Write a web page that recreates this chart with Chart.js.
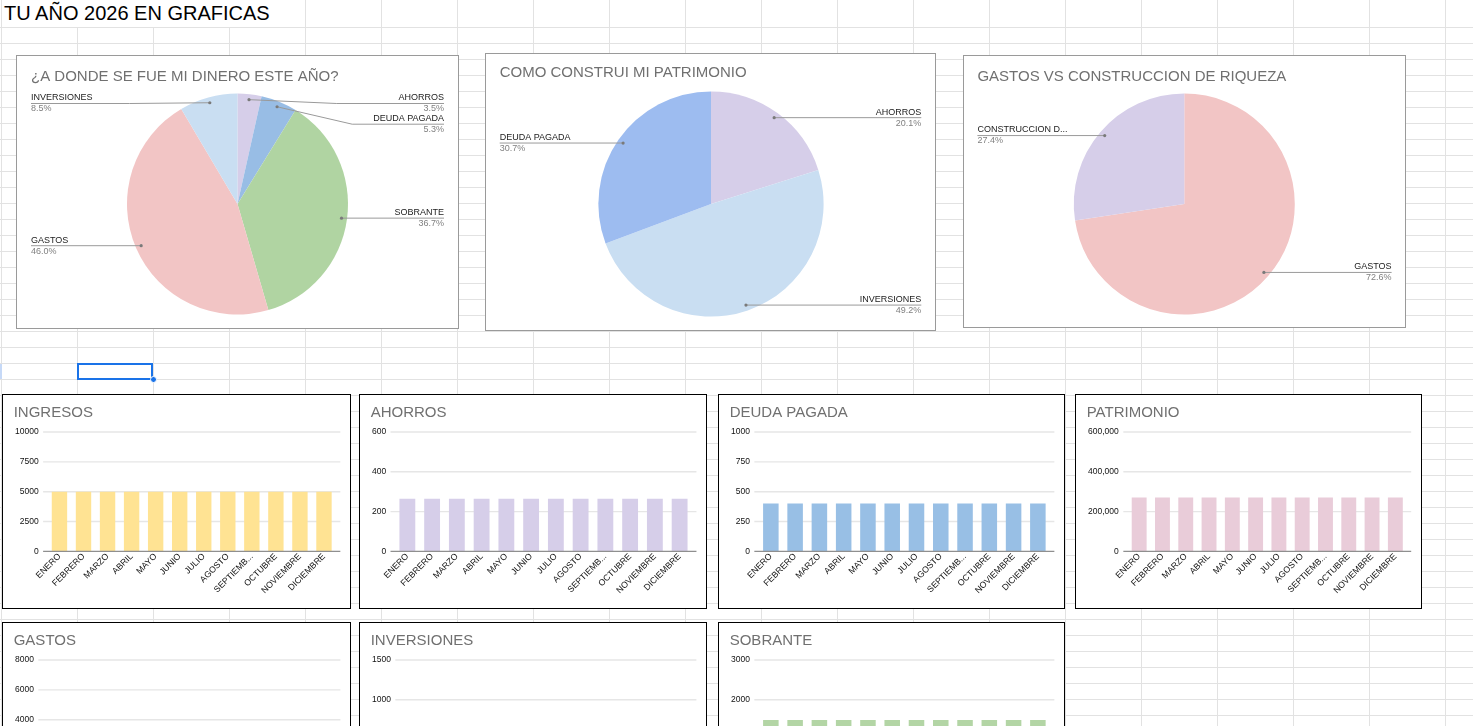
<!DOCTYPE html>
<html>
<head>
<meta charset="utf-8">
<script src="https://cdn.jsdelivr.net/npm/chart.js"></script>
<style>
  html, body { margin:0; padding:0; background:#fff; width:1473px; height:726px; overflow:hidden; position:relative; font-family:'Liberation Sans', Arial, sans-serif; }
  .sheet { position:absolute; left:0; top:27px; width:1473px; height:700px;
    background-image: linear-gradient(to right, #e2e2e2 1px, transparent 1px), linear-gradient(to bottom, #e2e2e2 1px, transparent 1px);
    background-size: 76px 16px, 76px 16px; background-position: 1px 0px, 0px 0px; }
  .toprow { position:absolute; left:305px; top:0; width:1168px; height:27px;
    background-image: linear-gradient(to right, #e2e2e2 1px, transparent 1px); background-size:76px 27px; }
  .leftline { position:absolute; left:1px; top:0; width:1px; height:726px; background:#e2e2e2; }
  .pagetitle { position:absolute; left:4px; top:1px; font-size:20px; line-height:24px; color:#000; white-space:nowrap; }
  .box { position:absolute; background:#fff; }
  .box canvas { display:block; }
  .pie { border:1px solid #9a9a9a; }
  .bar { border:1px solid #000; }
  .sel { position:absolute; left:77px; top:363px; width:76px; height:17px; box-sizing:border-box; border:2px solid #1a73e8; }
  .dot { position:absolute; left:150px; top:376px; width:7px; height:7px; border-radius:50%; background:#1a73e8; border:1px solid #fff; box-sizing:border-box; }
  .rowmark { position:absolute; left:0; top:364px; width:2px; height:15px; background:#c6d9f7; }
</style>
</head>
<body>
<div class="sheet"></div>
<div class="toprow"></div>
<div class="leftline"></div>
<div class="rowmark"></div>
<div class="pagetitle">TU AÑO 2026 EN GRAFICAS</div>
<div class="sel"></div>
<div class="dot"></div>

<div class="box pie" style="left:16px;top:55px;"><canvas id="pie1" width="441" height="272"></canvas></div>
<div class="box pie" style="left:485px;top:53px;"><canvas id="pie2" width="449" height="276"></canvas></div>
<div class="box pie" style="left:963px;top:55px;"><canvas id="pie3" width="441" height="271"></canvas></div>

<div class="box bar" style="left:2px;top:394px;"><canvas id="bIngresos" width="347" height="213"></canvas></div>
<div class="box bar" style="left:359px;top:394px;"><canvas id="bAhorros" width="346" height="213"></canvas></div>
<div class="box bar" style="left:718px;top:394px;"><canvas id="bDeuda" width="345" height="213"></canvas></div>
<div class="box bar" style="left:1075px;top:394px;"><canvas id="bPatrimonio" width="345" height="213"></canvas></div>
<div class="box bar" style="left:2px;top:622px;"><canvas id="bGastos" width="347" height="213"></canvas></div>
<div class="box bar" style="left:359px;top:622px;"><canvas id="bInversiones" width="346" height="213"></canvas></div>
<div class="box bar" style="left:718px;top:622px;"><canvas id="bSobrante" width="345" height="213"></canvas></div>

<script>
// ---------- DATA ----------
const meses = ['ENERO','FEBRERO','MARZO','ABRIL','MAYO','JUNIO','JULIO','AGOSTO','SEPTIEMBRE','OCTUBRE','NOVIEMBRE','DICIEMBRE'];
const ingresos    = [5000, 5000, 5000, 5000, 5000, 5000, 5000, 5000, 5000, 5000, 5000, 5000];
const ahorros     = [265, 265, 265, 265, 265, 265, 265, 265, 265, 265, 265, 265];
const deudaPagada = [402, 402, 402, 402, 402, 402, 402, 402, 402, 402, 402, 402];
const patrimonio  = [271000, 271000, 271000, 271000, 271000, 271000, 271000, 271000, 271000, 271000, 271000, 271000];
const gastos      = [3480, 3480, 3480, 3480, 3480, 3480, 3480, 3480, 3480, 3480, 3480, 3480];
const inversiones = [645, 645, 645, 645, 645, 645, 645, 645, 645, 645, 645, 645];
const sobrante    = [1490, 1490, 1490, 1490, 1490, 1490, 1490, 1490, 1490, 1490, 1490, 1490];

const pie1Labels = ['AHORROS', 'DEUDA PAGADA', 'SOBRANTE', 'GASTOS', 'INVERSIONES'];
const pie1Values = [3.5, 5.3, 36.7, 46.0, 8.5];
const pie2Labels = ['AHORROS', 'INVERSIONES', 'DEUDA PAGADA'];
const pie2Values = [20.1, 49.2, 30.7];
const pie3Labels = ['GASTOS', 'CONSTRUCCION DE RIQUEZA'];
const pie3Values = [72.6, 27.4];

// y-axis tick labels per chart
const ticksIngresos = [0, 2500, 5000, 7500, 10000];
const ticksAhorros = [0, 200, 400, 600];
const ticksDeuda = [0, 250, 500, 750, 1000];
const ticksPatrimonio = [0, 200000, 400000, 600000];
const ticksGastos = [0, 2000, 4000, 6000, 8000];
const ticksInversiones = [0, 500, 1000, 1500];
const ticksSobrante = [0, 1000, 2000, 3000];

// ---------- SETUP ----------
const FONT = "'Liberation Sans', Arial, sans-serif";
Chart.defaults.font.family = FONT;
const mctx = document.createElement('canvas').getContext('2d');
function truncate(text, size, maxW) {
  mctx.font = size + 'px ' + FONT;
  if (mctx.measureText(text).width <= maxW) return text;
  let t = text;
  while (t.length > 1 && mctx.measureText(t + '...').width > maxW) t = t.slice(0, -1);
  return t + '...';
}

const gridPlugin = {
  id: 'gsGrid',
  beforeDatasetsDraw(chart) {
    const {ctx, chartArea: {left, right}, scales: {y}} = chart;
    const ext = (right - left) / 12 * 0.18;
    ctx.save();
    ctx.strokeStyle = '#e6e6e6';
    ctx.lineWidth = 1.4;
    y.ticks.forEach(t => {
      if (t.value === 0) return;
      const py = y.getPixelForValue(t.value);
      ctx.beginPath(); ctx.moveTo(left - ext, py); ctx.lineTo(right + ext, py); ctx.stroke();
    });
    ctx.restore();
  },
  afterDatasetsDraw(chart) {
    const {ctx, chartArea: {left, right}, scales: {y}} = chart;
    const ext = (right - left) / 12 * 0.18;
    const py = y.getPixelForValue(0);
    ctx.save();
    ctx.strokeStyle = '#8f8f8f';
    ctx.lineWidth = 1.4;
    ctx.beginPath(); ctx.moveTo(left - ext, py); ctx.lineTo(right + ext, py); ctx.stroke();
    ctx.restore();
  }
};

const Y_PAD = 8.8;
function makeBar(id, title, values, color, tickVals, fmt) {
  new Chart(document.getElementById(id), {
    type: 'bar',
    data: { labels: meses, datasets: [{ data: values, backgroundColor: color, borderWidth: 0, barPercentage: 0.64, categoryPercentage: 1 }] },
    options: {
      responsive: false, animation: false, events: [],
      layout: { padding: { left: 10.7, right: 14, top: 0, bottom: 0 } },
      plugins: {
        legend: { display: false }, tooltip: { enabled: false },
        title: { display: true, text: title, align: 'start', color: '#707070', font: { size: 15, weight: 'normal' }, padding: { top: 8.4, bottom: 10.6 } }
      },
      scales: {
        x: {
          grid: { display: false, drawTicks: false }, border: { display: false },
          ticks: { color: '#111', font: { size: 8.7 }, minRotation: 45, maxRotation: 45, autoSkip: false, padding: 0,
            callback: function (v) { return truncate(this.getLabelForValue(v), 8.7, 54); } },
          afterFit(s) { s.height = 56.6; s.paddingLeft = 0; s.paddingRight = 0; }
        },
        y: {
          min: tickVals[0], max: tickVals[tickVals.length - 1],
          grid: { display: false, drawTicks: false }, border: { display: false },
          ticks: { stepSize: tickVals[1] - tickVals[0], color: '#111', font: { size: 8.5 }, padding: Y_PAD, callback: v => fmt(v) },
          afterFit(s) { s.width = s.width - Y_PAD + 1.3; }
        }
      }
    },
    plugins: [gridPlugin]
  });
}

const plain = v => String(v);
const comma = v => Number(v).toLocaleString('en-US');

makeBar('bIngresos', 'INGRESOS', ingresos, '#ffe393', ticksIngresos, plain);
makeBar('bAhorros', 'AHORROS', ahorros, '#d6cee9', ticksAhorros, plain);
makeBar('bDeuda', 'DEUDA PAGADA', deudaPagada, '#98bfe5', ticksDeuda, plain);
makeBar('bPatrimonio', 'PATRIMONIO', patrimonio, '#e9ccd9', ticksPatrimonio, comma);
makeBar('bGastos', 'GASTOS', gastos, '#f2c6c6', ticksGastos, plain);
makeBar('bInversiones', 'INVERSIONES', inversiones, '#c9def2', ticksInversiones, plain);
makeBar('bSobrante', 'SOBRANTE', sobrante, '#b3d5a5', ticksSobrante, plain);

// ---------- PIES ----------
const pieLabelPlugin = {
  id: 'pieLabels',
  afterDraw(chart, args, opts) {
    const ctx = chart.ctx;
    const meta = chart.getDatasetMeta(0);
    const vals = chart.data.datasets[0].data;
    const total = vals.reduce((a, b) => a + b, 0);
    const W = chart.width;
    const m = opts.margin;
    const items = meta.data.map((arc, i) => {
      const mid = (arc.startAngle + arc.endAngle) / 2;
      const rr = arc.outerRadius * 0.95;
      const ax = arc.x + Math.cos(mid) * rr;
      const ay = arc.y + Math.sin(mid) * rr;
      return { i, ax, ay, right: Math.cos(mid) >= 0, top: arc.y - arc.outerRadius };
    });
    [true, false].forEach(side => {
      const list = items.filter(it => it.right === side).sort((a, b) => a.ay - b.ay);
      let prev = -Infinity;
      list.forEach(it => { it.ly = Math.max(it.ay, it.top + 10, prev + 20.7); prev = it.ly; });
    });
    ctx.save();
    items.forEach(it => {
      const edge = it.right ? W - m : m;
      const elbow = it.ax + 0.45 * (edge - it.ax);
      ctx.strokeStyle = '#9a9a9a';
      ctx.lineWidth = 1;
      ctx.beginPath();
      ctx.moveTo(it.ax, it.ay);
      if (Math.abs(it.ly - it.ay) > 0.5) ctx.lineTo(elbow, it.ly);
      ctx.lineTo(edge, it.ly);
      ctx.stroke();
      ctx.fillStyle = '#7a7a7a';
      ctx.beginPath(); ctx.arc(it.ax, it.ay, 1.6, 0, Math.PI * 2); ctx.fill();
      ctx.textAlign = it.right ? 'right' : 'left';
      ctx.textBaseline = 'middle';
      ctx.font = '9px ' + FONT;
      ctx.fillStyle = '#222';
      ctx.fillText(truncate(chart.data.labels[it.i], 9, 92), edge, it.ly - 5.6);
      ctx.fillStyle = '#808080';
      ctx.fillText((vals[it.i] / total * 100).toFixed(1) + '%', edge, it.ly + 5.4);
    });
    ctx.restore();
  }
};

function makePie(id, title, labels, values, colors, p) {
  new Chart(document.getElementById(id), {
    type: 'pie',
    data: { labels, datasets: [{ data: values, backgroundColor: colors, borderWidth: 0, hoverOffset: 0 }] },
    options: {
      responsive: false, animation: false, events: [],
      layout: { padding: { left: p.l, right: p.r, top: 0, bottom: p.b } },
      plugins: {
        legend: { display: false }, tooltip: { enabled: false },
        title: { display: true, text: title, align: 'start', color: '#707070', font: { size: 15, weight: 'normal' }, padding: { top: p.tt, bottom: p.tb } },
        pieLabels: { margin: p.l }
      }
    },
    plugins: [pieLabelPlugin]
  });
}

makePie('pie1', '¿A DONDE SE FUE MI DINERO ESTE AÑO?', pie1Labels, pie1Values,
  ['#d6cee9', '#98bde5', '#b0d4a2', '#f2c5c5', '#c9def2'], { l: 14, r: 14, b: 13.5, tt: 11.7, tb: 7.8 });
makePie('pie2', 'COMO CONSTRUI MI PATRIMONIO', pie2Labels, pie2Values,
  ['#d6cee9', '#c9def2', '#9dbcf0'], { l: 13.7, r: 12.7, b: 13.4, tt: 10.3, tb: 9.1 });
makePie('pie3', 'GASTOS VS CONSTRUCCION DE RIQUEZA', pie3Labels, pie3Values,
  ['#f2c5c5', '#d6cee9'], { l: 13.4, r: 13.8, b: 12.5, tt: 11.7, tb: 7.8 });
</script>
</body>
</html>
